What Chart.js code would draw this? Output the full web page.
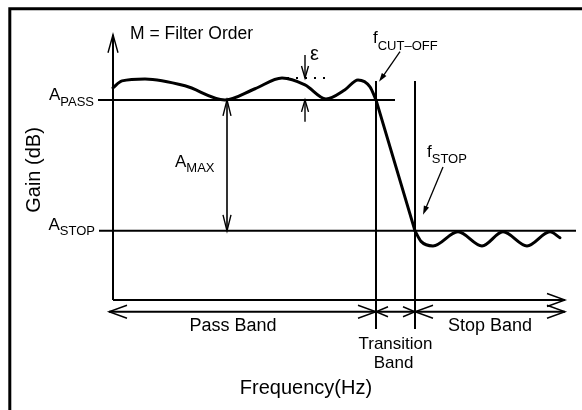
<!DOCTYPE html>
<html>
<head>
<meta charset="utf-8">
<script src="https://cdn.jsdelivr.net/npm/chart.js@4.4.0/dist/chart.umd.min.js"></script>
<style>
  html, body { margin: 0; padding: 0; background: #fff; }
  #wrap { width: 582px; height: 410px; position: relative; }
</style>
</head>
<body>
<div id="wrap"><canvas id="js--filter-chart"></canvas></div>
<script>
// frequency in diagram units (gain axis at 0), gain in dB (A_PASS = 0, A_STOP = -40)
const passFreq = [0, 0.9, 3.2, 7.2, 11.2, 14.2, 16.9, 19.2, 21.3, 23.2, 24.5, 25.7, 26.3];
const passGain = [3.7, 5.8, 6.4, 4.3, 0, 3.4, 6.7, 4.6, 0.3, 3.1, 6.1, 4.0, 0];
const rollFreq = [26.3, 30.2];
const rollGain = [0, -40];
const stopFreq = [30.2, 30.8, 32.0, 34.5, 36.9, 39.0, 41.4, 43.7, 44.7];
const stopGain = [-40, -43.2, -44.6, -40.3, -44.6, -40.3, -44.6, -40.3, -42.1];

const aPass = 0;
const aStop = -40;
const fCut = 26.3;
const fStop = 30.2;
const rippleTop = 6.7;
const axisTop = 19.9;
const axisFloor = -61.1;
const axisEnd = 45.2;
const bandRow = -64.7;
const bandStart = -0.4;
const aMaxFreq = 11.4;
const epsFreq = 19.2;

const bandLabels = ["Pass Band", "Stop Band"];
const FONT = '"Liberation Sans", Arial, sans-serif';

const pts = (xs, ys) => xs.map((x, i) => ({ x: x, y: ys[i] }));

const seg = (x1, y1, x2, y2, width, dash) => ({
    data: [{ x: x1, y: y1 }, { x: x2, y: y2 }],
    showLine: true,
    borderColor: "#000",
    borderWidth: width,
    borderDash: dash || [],
    pointRadius: 0,
    borderCapStyle: "butt"
});

const curve = (xs, ys) => ({
    data: pts(xs, ys),
    showLine: true,
    borderColor: "#000",
    borderWidth: 3,
    pointRadius: 0,
    cubicInterpolationMode: "monotone",
    borderCapStyle: "round",
    borderJoinStyle: "round"
});

const datasets = [
    seg(0, axisFloor, 0, axisTop, 2),
    seg(0, axisFloor, axisEnd, axisFloor, 2),
    seg(-1.5, aPass, 28.2, aPass, 2),
    seg(-1.4, aStop, 46.3, aStop, 2),
    seg(fCut, 5.8, fCut, -70, 2),
    seg(fStop, 5.8, fStop, -70, 2),
    seg(bandStart, bandRow, axisEnd, bandRow, 2),
    seg(aMaxFreq, aPass, aMaxFreq, aStop, 1.6),
    seg(epsFreq, 13.7, epsFreq, rippleTop, 1.4),
    seg(epsFreq, -6.7, epsFreq, aPass, 1.4),
    seg(16.5, rippleTop, 21.7, rippleTop, 2, [2, 7]),
    curve(passFreq, passGain),
    { ...curve(rollFreq, rollGain), cubicInterpolationMode: "default", tension: 0 },
    curve(stopFreq, stopGain)
];

const vHead = (ctx, x, y, dx, dy, len, half) => {
    const bx = x - dx * len, by = y - dy * len;
    ctx.beginPath();
    ctx.moveTo(bx - dy * half, by + dx * half);
    ctx.lineTo(x, y);
    ctx.lineTo(bx + dy * half, by - dx * half);
    ctx.stroke();
};

const pointer = (ctx, x1, y1, x2, y2) => {
    const l = Math.hypot(x2 - x1, y2 - y1);
    const dx = (x2 - x1) / l, dy = (y2 - y1) / l;
    ctx.lineWidth = 1.3;
    ctx.beginPath();
    ctx.moveTo(x1, y1);
    ctx.lineTo(x2 - dx * 5, y2 - dy * 5);
    ctx.stroke();
    const bx = x2 - dx * 9, by = y2 - dy * 9;
    ctx.beginPath();
    ctx.moveTo(x2, y2);
    ctx.lineTo(bx - dy * 2.8, by + dx * 2.8);
    ctx.lineTo(bx + dy * 2.8, by - dx * 2.8);
    ctx.closePath();
    ctx.fill();
};

const subText = (ctx, main, sub, x, y, mainSize, subSize, drop) => {
    ctx.textAlign = "left";
    ctx.font = mainSize + "px " + FONT;
    ctx.fillText(main, x, y);
    const w = ctx.measureText(main).width;
    ctx.font = subSize + "px " + FONT;
    ctx.fillText(sub, x + w, y + drop);
    return w + ctx.measureText(sub).width;
};

const subWidth = (ctx, main, sub, mainSize, subSize) => {
    ctx.font = mainSize + "px " + FONT;
    const w = ctx.measureText(main).width;
    ctx.font = subSize + "px " + FONT;
    return w + ctx.measureText(sub).width;
};

const diagramPlugin = {
    id: "diagram",
    afterDraw(chart) {
        const ctx = chart.ctx;
        const X = v => chart.scales.x.getPixelForValue(v);
        const Y = v => chart.scales.y.getPixelForValue(v);
        ctx.save();
        ctx.strokeStyle = "#000";
        ctx.fillStyle = "#000";

        // frame
        ctx.lineWidth = 3;
        ctx.beginPath();
        ctx.moveTo(9.8, 410);
        ctx.lineTo(9.8, 8.8);
        ctx.lineTo(582, 8.8);
        ctx.stroke();

        // axis arrows
        ctx.lineWidth = 1.4;
        vHead(ctx, X(0), Y(axisTop), 0, -1, 18, 5);
        vHead(ctx, X(axisEnd), Y(axisFloor), 1, 0, 18, 6.5);

        // band arrows
        vHead(ctx, X(bandStart), Y(bandRow), -1, 0, 18, 6.5);
        vHead(ctx, X(fCut), Y(bandRow), 1, 0, 18, 6.5);
        vHead(ctx, X(fCut), Y(bandRow), -1, 0, 12, 5);
        vHead(ctx, X(fStop), Y(bandRow), 1, 0, 12, 5);
        vHead(ctx, X(fStop), Y(bandRow), -1, 0, 18, 6.5);
        vHead(ctx, X(axisEnd), Y(bandRow), 1, 0, 18, 6.5);

        // A_MAX and epsilon arrows
        vHead(ctx, X(aMaxFreq), Y(aPass), 0, -1, 16, 4);
        vHead(ctx, X(aMaxFreq), Y(aStop), 0, 1, 16, 4);
        vHead(ctx, X(epsFreq), Y(rippleTop), 0, 1, 12, 3.5);
        vHead(ctx, X(epsFreq), Y(aPass), 0, -1, 12, 3.5);

        // pointers to f_cut-off and f_stop
        pointer(ctx, X(28.7), Y(14.7), X(26.6), Y(5.5));
        pointer(ctx, X(33.0), Y(-20.5), X(31.0), Y(-35.1));

        // labels
        ctx.textBaseline = "alphabetic";
        ctx.font = "17.5px " + FONT;
        ctx.textAlign = "left";
        ctx.fillText("M = Filter Order", 130, 39);

        let w = subWidth(ctx, "A", "PASS", 17, 13);
        subText(ctx, "A", "PASS", X(-1.5) - 4 - w, Y(aPass), 17, 13, 6);
        w = subWidth(ctx, "A", "STOP", 17, 13);
        subText(ctx, "A", "STOP", X(-1.4) - 4 - w, Y(aStop) - 1, 17, 13, 5);
        subText(ctx, "A", "MAX", X(aMaxFreq) - 52, 167, 17, 13, 5);
        subText(ctx, "f", "CUT\u2013OFF", X(fCut) - 3, 43, 17, 13, 7);
        subText(ctx, "f", "STOP", X(fStop) + 12, 157, 17, 13, 6);

        ctx.font = "20px " + FONT;
        ctx.fillText("\u03b5", X(epsFreq) + 5, 60);

        ctx.textAlign = "center";
        ctx.font = "18px " + FONT;
        ctx.fillText(bandLabels[0], 233, 331);
        ctx.fillText(bandLabels[1], (X(fStop) + X(axisEnd)) / 2, 331);
        ctx.font = "17px " + FONT;
        ctx.fillText("Transition", (X(fCut) + X(fStop)) / 2, 349);
        ctx.fillText("Band", (X(fCut) + X(fStop)) / 2 - 2, 368);

        ctx.font = "20px " + FONT;
        ctx.fillText("Frequency(Hz)", 306, 394);

        ctx.translate(40, 170);
        ctx.rotate(-Math.PI / 2);
        ctx.fillText("Gain (dB)", 0, 0);
        ctx.restore();
    }
};

new Chart(document.getElementById("js--filter-chart"), {
    type: "scatter",
    data: { datasets: datasets },
    options: {
        responsive: true,
        maintainAspectRatio: false,
        animation: false,
        events: [],
        layout: { padding: 0 },
        plugins: { legend: { display: false }, tooltip: { enabled: false } },
        scales: {
            x: { type: "linear", display: false, min: -11.3, max: 46.9 },
            y: { type: "linear", display: false, min: -94.7, max: 30.5 }
        }
    },
    plugins: [diagramPlugin]
});
</script>
</body>
</html>
